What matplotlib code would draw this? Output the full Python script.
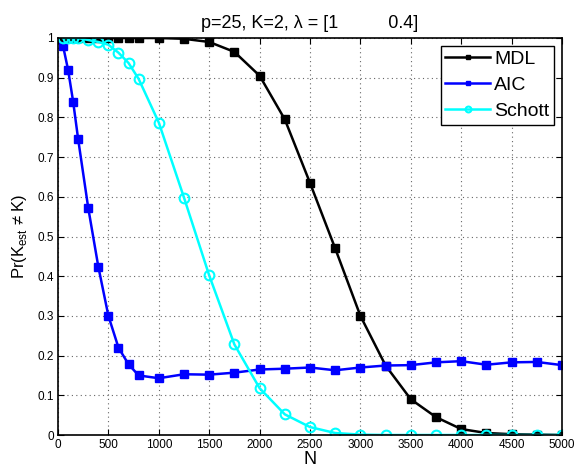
import numpy as np
import matplotlib
matplotlib.use("Agg")
import matplotlib.pyplot as plt

plt.rcParams['font.family'] = ['Liberation Sans', 'DejaVu Sans']
plt.rcParams['mathtext.fontset'] = 'custom'
plt.rcParams['mathtext.rm'] = 'Liberation Sans'

# sample sizes
N = [50, 100, 150, 200, 300, 400, 500, 600, 700, 800, 1000, 1250, 1500, 1750,
     2000, 2250, 2500, 2750, 3000, 3250, 3500, 3750, 4000, 4250, 4500, 4750, 5000]

mdl = [1.0, 1.0, 1.0, 1.0, 1.0, 1.0, 1.0, 1.0, 1.0, 1.0, 1.0, 0.998, 0.99, 0.965,
       0.905, 0.795, 0.635, 0.47, 0.30, 0.175, 0.09, 0.045, 0.015, 0.005, 0.002, 0.001, 0.0]

aic = [0.98, 0.92, 0.84, 0.745, 0.572, 0.424, 0.30, 0.22, 0.178, 0.15, 0.143, 0.153,
       0.152, 0.157, 0.165, 0.167, 0.17, 0.163, 0.17, 0.175, 0.176, 0.183, 0.186,
       0.177, 0.183, 0.184, 0.176]

schott = [1.0, 1.0, 1.0, 1.0, 0.995, 0.99, 0.983, 0.963, 0.937, 0.897, 0.787, 0.598,
          0.402, 0.228, 0.118, 0.052, 0.02, 0.005, 0.001, 0.0, 0.0, 0.0, 0.0, 0.0,
          0.0, 0.0, 0.0]

yticks = [0, 0.1, 0.2, 0.3, 0.4, 0.5, 0.6, 0.7, 0.8, 0.9, 1]
ytick_labels = ["0", "0.1", "0.2", "0.3", "0.4", "0.5", "0.6", "0.7", "0.8", "0.9", "1"]
xticks = [0, 500, 1000, 1500, 2000, 2500, 3000, 3500, 4000, 4500, 5000]

fig = plt.figure(figsize=(5.75, 4.68), dpi=100)
ax = fig.add_axes([58 / 575, 33 / 468, 504 / 575, 397 / 468])

ax.plot(N, mdl, "-s", color="k", lw=1.8, ms=6, label="MDL")
ax.plot(N, aic, "-s", color="#0000ff", lw=1.8, ms=6, label="AIC")
ax.plot(N, schott, "-o", color="#00ffff", lw=1.8, ms=7, mfc="none", mew=1.5,
        label="Schott")

ax.set_xlim(0, 5000)
ax.set_ylim(0, 1)
ax.set_xticks(xticks)
ax.set_yticks(yticks)
ax.set_yticklabels(ytick_labels)
ax.tick_params(direction="in", top=True, right=True, labelsize=8.5, length=4, pad=3)
ax.grid(True, linestyle=(0, (1, 3)), color="#666666", lw=0.8)
for s in ax.spines.values():
    s.set_linewidth(1.2)

ax.set_title("p=25, K=2, λ = [1          0.4]", fontsize=13, pad=7)
ax.set_xlabel("N", fontsize=13, labelpad=0)
ax.set_ylabel(r"Pr(K$_{\rm est}$ ≠ K)", fontsize=12, labelpad=6)

leg = ax.legend(loc="upper right", fontsize=14, fancybox=False, framealpha=1,
                edgecolor="k", borderpad=0.25, labelspacing=0.42, handlelength=2.3,
                handletextpad=0.2, borderaxespad=0.4, markerscale=0.6)
leg.get_frame().set_linewidth(1.0)

fig.savefig("out.png", dpi=100)
